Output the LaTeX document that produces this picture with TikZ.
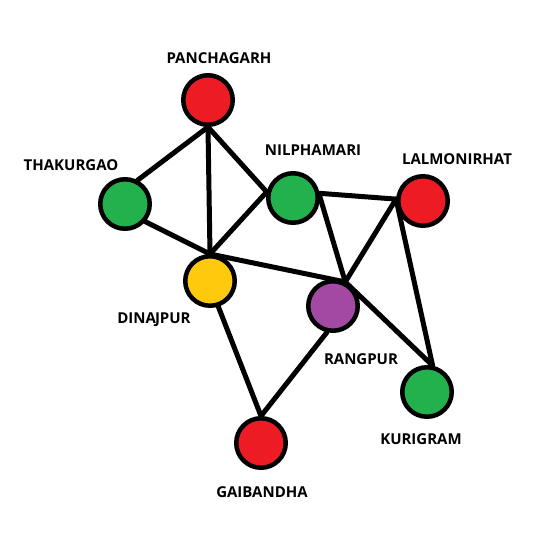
\documentclass[tikz,border=0pt]{standalone}
\usepackage{fontspec}
\setmainfont{Open Sans}
\definecolor{dred}{HTML}{ED1C24}
\definecolor{dgreen}{HTML}{22B14C}
\definecolor{dyellow}{HTML}{FFC90E}
\definecolor{dpurple}{HTML}{A349A4}

\begin{document}
\begin{tikzpicture}[x=1pt, y=-1pt,
        district/.style={circle, draw=black, line width=4.5pt, minimum size=49.5pt, inner sep=0pt},
        dname/.style={font=\bfseries\fontsize{15}{15}\selectfont, inner sep=0pt},
        road/.style={line width=5pt, line cap=round}]
        \useasboundingbox (0,0) rectangle (547,555);
        \node[district, fill=dred] (pan) at (208,100) {};
        \node[district, fill=dgreen] (tha) at (125,204) {};
        \node[district, fill=dgreen] (nil) at (293,198) {};
        \node[district, fill=dred] (lal) at (423,201) {};
        \node[district, fill=dyellow] (din) at (210,281) {};
        \node[district, fill=dpurple] (ran) at (333,306) {};
        \node[district, fill=dgreen] (kur) at (427,392) {};
        \node[district, fill=dred] (gai) at (261,443) {};
        \node[dname] (pan-l) at (219,58) {PANCHAGARH};
        \node[dname] (tha-l) at (71,165) {THAKURGAO};
        \node[dname] (nil-l) at (313,150) {NILPHAMARI};
        \node[dname] (lal-l) at (457,159) {LALMONIRHAT};
        \node[dname] (din-l) at (154,320) {DINA\kern-1pt JPUR};
        \node[dname] (ran-l) at (361,359) {RANGPUR};
        \node[dname] (kur-l) at (421,439) {KURIGRAM};
        \node[dname] (gai-l) at (262,492) {GAIBANDHA};
        \draw[road] (pan.south) -- (tha.62);
        \draw[road] (pan.south) -- (din.north);
        \draw[road] (pan.south) -- (nil.167);
        \draw[road] (tha.-41) -- (din.north);
        \draw[road] (nil.167) -- (din.north);
        \draw[road] (din.north) -- (ran.63);
        \draw[road] (nil.10) -- (lal.176);
        \draw[road] (nil.2) -- (ran.63);
        \draw[road] (lal.176) -- (ran.63);
        \draw[road] (lal.176) -- (kur.78);
        \draw[road] (ran.63) -- (kur.78);
        \draw[road] (din.-72) -- (gai.north);
        \draw[road] (ran.-103) -- (gai.north);
\end{tikzpicture}
\end{document}
